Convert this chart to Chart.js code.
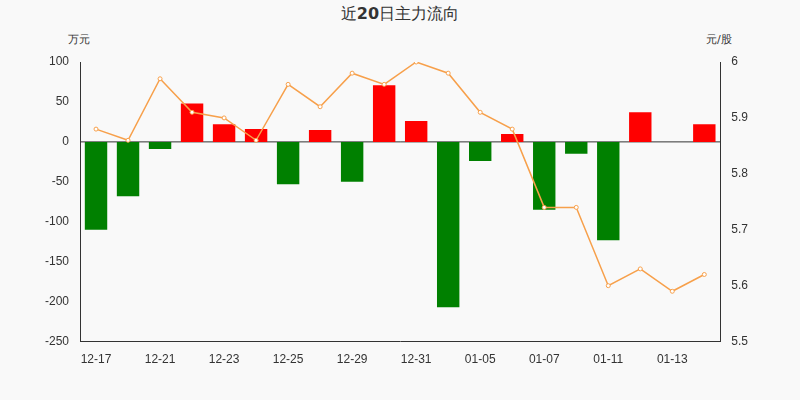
<!DOCTYPE html>
<html>
<head>
<meta charset="utf-8">
<script src="https://cdn.jsdelivr.net/npm/chart.js@4"></script>
<style>
body{margin:0;background:#f9f9f9;}
#wrap{position:relative;width:800px;height:400px;}
.t{position:absolute;font-family:"DejaVu Sans",sans-serif;color:#333;}
</style>
</head>
<body>
<div id="wrap">
<div class="t" style="left:0;width:800px;top:4px;text-align:center;font-size:16px;">近<b>20</b>日主力流向</div>
<div class="t" style="left:68px;top:32px;font-size:11px;">万元</div>
<div class="t" style="left:706px;top:32px;font-size:11px;">元/股</div>
<canvas id="c1" width="800" height="400" style="position:absolute;left:0;top:0;"></canvas>
</div>
<script>
// =========================
// DADOS
// =========================
const dates = ["12-17","12-18","12-21","12-22","12-23","12-24","12-25","12-28","12-29","12-30",
               "12-31","01-04","01-05","01-06","01-07","01-08","01-11","01-12","01-13","01-14"];
const flows = [-110,-68,-9,48,22,16,-53,15,-50,71,26,-207,-24,10,-85,-15,-123,37,0,22];
const prices = [5.88,5.86,5.97,5.91,5.90,5.86,5.96,5.92,5.98,5.96,6.00,5.98,5.91,5.88,5.74,5.74,5.60,5.63,5.59,5.62];
const leftTicks = [100,50,0,-50,-100,-150,-200,-250];
const rightTicks = [6,5.9,5.8,5.7,5.6,5.5];

const ctx1 = document.getElementById("c1").getContext("2d");
new Chart(ctx1, {
    type: "bar",
    data: {
        labels: dates,
        datasets: [{
            type: "line",
            data: prices,
            yAxisID: "y1",
            borderColor: "#f7a04b",
            borderWidth: 1.5,
            backgroundColor: "#fff",
            pointBorderColor: "#f7a04b",
            pointRadius: 2,
            pointBorderWidth: 1,
            tension: 0,
            order: 0
        },{
            data: flows,
            yAxisID: "y",
            backgroundColor: flows.map(v => v >= 0 ? "#ff0000" : "#008000"),
            barPercentage: 0.7,
            categoryPercentage: 1,
            order: 1
        }]
    },
    options: {
        responsive: false,
        animation: false,
        layout: { padding: { left: 42, right: 49, top: 62, bottom: 30 } },
        plugins: { legend: { display: false }, tooltip: { enabled: false } },
        scales: {
            x: {
                grid: { display: false, drawTicks: true },
                border: { color: "#333" },
                ticks: {
                    color: "#333", font: { size: 12 }, autoSkip: false, maxRotation: 0,
                    callback: (v, i) => i % 2 === 0 ? dates[i] : ""
                }
            },
            y: {
                min: -250, max: 100,
                afterBuildTicks: a => { a.ticks = leftTicks.map(v => ({ value: v })); },
                grid: { display: false },
                border: { color: "#333" },
                ticks: { color: "#333", font: { size: 12 } }
            },
            y1: {
                position: "right",
                min: 5.5, max: 6,
                afterBuildTicks: a => { a.ticks = rightTicks.map(v => ({ value: v })); },
                grid: { display: false },
                border: { color: "#333" },
                ticks: { color: "#333", font: { size: 12 }, callback: v => String(Math.round(v * 10) / 10) }
            }
        }
    },
    plugins: [{
        id: "zeroLine",
        beforeDatasetsDraw(c) {
            const y = c.scales.y.getPixelForValue(0), a = c.chartArea, g = c.ctx;
            g.save(); g.strokeStyle = "#333"; g.lineWidth = 1;
            g.beginPath(); g.moveTo(a.left, y); g.lineTo(a.right, y); g.stroke(); g.restore();
        }
    }]
});
</script>
</body>
</html>
